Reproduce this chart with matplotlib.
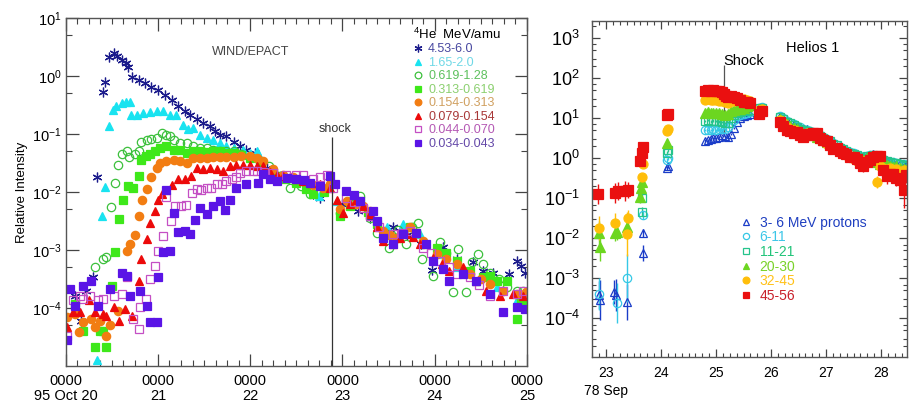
import matplotlib.pyplot as plt
import numpy as np
from matplotlib.lines import Line2D
from matplotlib.ticker import LogLocator, MultipleLocator, NullFormatter, FixedLocator

plt.rcParams['font.family'] = ['Liberation Sans', 'DejaVu Sans']
plt.rcParams['mathtext.fontset'] = 'custom'
plt.rcParams['mathtext.rm'] = 'Liberation Sans'
plt.rcParams['mathtext.it'] = 'Liberation Sans:italic'
plt.rcParams['mathtext.bf'] = 'Liberation Sans:bold'

# ---------------- WIND/EPACT 4He, Oct 1995: (day of month, log10 relative intensity)
he_453 = [(20.17, -4.22), (20.10, -3.79), (20.22, -3.70), (20.30, -3.47), (20.34, -1.75), (20.41, -0.27),
          (20.43, -0.10), (20.47, 0.32), (20.52, 0.40), (20.56, 0.34), (20.61, 0.28), (20.65, 0.22),
          (20.68, 0.16), (20.72, -0.01), (20.79, -0.07), (20.86, -0.12), (20.93, -0.19), (21.00, -0.25),
          (21.08, -0.32), (21.15, -0.41), (21.22, -0.51), (21.29, -0.61), (21.35, -0.67), (21.42, -0.74),
          (21.49, -0.81), (21.56, -0.86), (21.62, -0.95), (21.67, -1.01), (21.74, -1.04), (21.82, -1.13),
          (21.89, -1.21), (21.96, -1.27), (22.05, -1.32), (22.12, -1.50), (22.18, -1.58), (22.25, -1.64),
          (22.35, -1.72), (22.50, -1.81), (22.68, -2.04), (22.76, -2.10), (23.00, -2.20), (23.17, -2.33),
          (23.30, -2.45), (23.44, -2.67), (23.55, -2.61), (23.70, -2.75), (23.85, -2.90), (23.97, -3.35),
          (24.09, -2.95), (24.24, -3.16), (24.42, -3.21), (24.52, -3.36), (24.63, -3.39), (24.81, -3.42),
          (24.89, -3.19), (24.94, -3.28), (24.98, -3.39)]
he_165 = [(20.34, -4.90), (20.39, -2.41), (20.43, -1.92), (20.47, -0.87), (20.51, -0.58), (20.55, -0.52),
          (20.61, -0.47), (20.65, -0.44), (20.70, -0.45), (20.71, -0.67), (20.77, -0.67), (20.84, -0.64),
          (20.91, -0.62), (20.99, -0.61), (21.06, -0.61), (21.13, -0.67), (21.20, -0.67), (21.27, -0.84),
          (21.33, -0.92), (21.38, -0.90), (21.46, -1.01), (21.53, -1.07), (21.60, -1.10), (21.67, -1.15),
          (21.74, -1.21), (21.83, -1.24), (21.92, -1.28), (22.00, -1.32), (22.07, -1.30), (22.10, -1.38),
          (22.32, -1.70), (22.57, -1.81), (22.75, -2.07), (22.94, -2.16), (23.08, -2.13), (23.30, -2.38),
          (23.48, -2.61), (23.66, -2.56), (23.84, -2.73), (24.02, -3.07), (24.24, -3.30), (24.45, -3.53),
          (24.67, -3.64), (24.89, -3.87), (24.98, -3.82)]
he_619 = [(20.32, -3.30), (20.40, -3.16), (20.44, -3.12), (20.49, -2.26), (20.53, -1.84), (20.57, -1.54),
          (20.61, -1.35), (20.66, -1.30), (20.69, -1.40), (20.75, -1.35), (20.79, -1.30), (20.82, -1.13),
          (20.88, -1.10), (20.93, -1.08), (20.99, -1.07), (21.04, -0.98), (21.09, -1.01), (21.13, -1.04),
          (21.17, -1.10), (21.24, -1.15), (21.31, -1.15), (21.38, -1.21), (21.46, -1.24), (21.53, -1.24),
          (21.60, -1.27), (21.67, -1.30), (21.74, -1.30), (21.82, -1.30), (21.90, -1.35), (22.00, -1.40),
          (22.10, -1.45), (22.20, -1.55), (22.30, -1.72), (22.43, -1.93), (22.55, -1.90), (22.65, -2.04),
          (22.80, -1.95), (22.97, -2.36), (23.10, -2.20), (23.19, -2.07), (23.30, -2.45), (23.37, -2.70),
          (23.48, -2.73), (23.51, -2.96), (23.60, -2.65), (23.69, -2.90), (23.75, -2.60), (23.82, -2.53),
          (23.86, -3.16), (23.98, -3.45), (24.06, -2.87), (24.12, -3.05), (24.20, -3.73), (24.25, -2.99),
          (24.34, -3.73), (24.40, -3.20), (24.47, -3.07), (24.52, -3.24), (24.60, -3.40), (24.70, -3.50),
          (24.78, -3.64), (24.89, -3.70), (24.96, -3.70)]
he_313 = [(20.10, -3.93), (20.19, -4.39), (20.32, -4.68), (20.37, -4.39), (20.41, -4.39), (20.44, -4.68),
          (20.50, -3.62), (20.53, -3.04), (20.58, -2.47), (20.62, -2.13), (20.68, -1.90), (20.73, -1.93),
          (20.79, -1.72), (20.82, -1.44), (20.87, -1.38), (20.91, -1.34), (20.97, -1.30), (21.02, -1.24),
          (21.09, -1.21), (21.17, -1.27), (21.24, -1.27), (21.31, -1.32), (21.38, -1.30), (21.46, -1.29),
          (21.53, -1.31), (21.60, -1.30), (21.67, -1.30), (21.74, -1.32), (21.82, -1.32), (21.90, -1.36),
          (22.00, -1.42), (22.12, -1.50), (22.25, -1.67), (22.38, -1.78), (22.50, -1.84), (22.60, -1.95),
          (22.68, -2.04), (22.80, -2.00), (22.97, -2.41), (23.08, -2.25), (23.19, -2.16), (23.28, -2.35),
          (23.37, -2.56), (23.48, -2.75), (23.59, -2.79), (23.73, -2.61), (23.80, -2.70), (23.87, -2.90),
          (24.02, -2.96), (24.12, -3.05), (24.24, -3.19), (24.38, -3.36), (24.52, -3.47), (24.60, -3.45),
          (24.67, -3.53), (24.78, -3.53), (24.89, -4.19), (24.94, -3.90), (24.98, -3.93)]
he_154 = [(20.01, -4.16), (20.10, -4.10), (20.14, -4.42), (20.19, -4.25), (20.28, -4.19), (20.32, -4.33),
          (20.37, -4.22), (20.44, -4.49), (20.48, -4.29), (20.57, -4.05), (20.66, -3.02), (20.70, -2.89),
          (20.75, -2.74), (20.79, -2.41), (20.83, -2.14), (20.88, -1.94), (20.93, -1.75), (20.99, -1.58),
          (21.02, -1.50), (21.09, -1.46), (21.17, -1.44), (21.24, -1.46), (21.31, -1.50), (21.38, -1.41),
          (21.46, -1.41), (21.53, -1.42), (21.60, -1.40), (21.67, -1.40), (21.74, -1.40), (21.82, -1.40),
          (21.90, -1.38), (22.00, -1.38), (22.07, -1.42), (22.14, -1.47), (22.25, -1.60), (22.36, -1.70),
          (22.46, -1.75), (22.57, -1.81), (22.68, -1.88), (22.79, -1.93), (22.86, -1.87), (22.97, -2.30),
          (23.05, -2.15), (23.15, -2.21), (23.22, -2.25), (23.30, -2.33), (23.44, -2.67), (23.52, -2.75),
          (23.59, -2.79), (23.73, -2.61), (23.80, -2.70), (23.87, -2.84), (24.02, -3.07), (24.12, -3.15),
          (24.24, -3.24), (24.38, -3.42), (24.50, -3.50), (24.60, -3.59), (24.74, -3.70), (24.89, -3.76),
          (24.99, -3.73)]
he_079 = [(20.01, -4.33), (20.08, -4.07), (20.15, -4.07), (20.25, -3.87), (20.32, -4.07), (20.41, -4.10),
          (20.44, -4.13), (20.52, -3.99), (20.58, -4.22), (20.64, -4.02), (20.72, -4.13), (20.79, -3.53),
          (20.82, -3.16), (20.88, -2.81), (20.91, -2.53), (20.97, -2.33), (21.00, -2.14), (21.04, -2.04),
          (21.09, -1.96), (21.15, -1.88), (21.22, -1.78), (21.29, -1.77), (21.36, -1.73), (21.42, -1.59),
          (21.49, -1.61), (21.56, -1.59), (21.64, -1.61), (21.71, -1.64), (21.78, -1.56), (21.85, -1.53),
          (21.92, -1.53), (22.00, -1.53), (22.07, -1.55), (22.14, -1.56), (22.22, -1.65), (22.29, -1.70),
          (22.36, -1.72), (22.43, -1.75), (22.50, -1.78), (22.57, -1.81), (22.66, -1.85), (22.76, -1.87),
          (22.86, -1.93), (22.94, -2.13), (23.01, -2.36), (23.08, -2.20), (23.15, -2.13), (23.22, -2.25),
          (23.30, -2.38), (23.37, -2.60), (23.44, -2.84), (23.55, -2.90), (23.62, -2.80), (23.69, -2.73),
          (23.77, -2.78), (23.84, -2.90), (23.98, -3.13), (24.08, -3.25), (24.16, -3.36), (24.31, -3.30),
          (24.45, -3.53), (24.56, -3.70), (24.71, -3.79), (24.85, -3.76), (24.96, -3.79)]
he_044 = [(20.01, -4.48), (20.08, -3.87), (20.15, -3.79), (20.19, -3.85), (20.26, -3.79), (20.35, -3.87),
          (20.41, -3.85), (20.52, -3.79), (20.61, -3.76), (20.66, -3.47), (20.73, -4.19), (20.79, -4.36),
          (20.81, -3.99), (20.87, -3.85), (20.91, -3.50), (20.97, -3.27), (21.00, -3.02), (21.05, -2.76),
          (21.09, -2.09), (21.14, -2.50), (21.18, -2.24), (21.25, -2.24), (21.30, -2.22), (21.37, -2.01),
          (21.42, -1.94), (21.47, -1.96), (21.53, -1.93), (21.58, -1.93), (21.64, -1.87), (21.69, -1.87),
          (21.74, -1.81), (21.80, -1.78), (21.85, -1.75), (21.89, -1.67), (21.96, -1.64), (22.03, -1.64),
          (22.07, -1.64), (22.15, -1.66), (22.25, -1.68), (22.39, -1.70), (22.50, -1.70), (22.57, -1.70),
          (22.68, -1.78), (22.76, -1.75), (22.83, -1.70), (22.90, -1.93), (23.04, -2.10), (23.12, -2.18),
          (23.22, -2.27), (23.30, -2.42), (23.40, -2.61), (23.55, -2.73), (23.65, -2.70), (23.73, -2.67),
          (23.87, -2.96), (23.96, -3.05), (24.06, -3.19), (24.15, -3.30), (24.24, -3.42), (24.38, -3.47),
          (24.48, -3.60), (24.60, -3.79), (24.74, -3.70), (24.89, -3.76), (24.96, -3.70)]
he_034 = [(20.01, -4.56), (20.05, -3.67), (20.10, -3.96), (20.19, -3.62), (20.28, -3.53), (20.35, -3.96),
          (20.48, -3.67), (20.61, -3.39), (20.66, -3.44), (20.70, -3.79), (20.81, -3.70), (20.88, -3.96),
          (20.91, -4.25), (20.99, -4.25), (21.00, -3.47), (21.06, -3.04), (21.09, -1.96), (21.13, -3.01),
          (21.17, -2.36), (21.22, -2.69), (21.29, -2.67), (21.35, -2.73), (21.40, -2.48), (21.46, -2.27),
          (21.53, -2.38), (21.60, -2.24), (21.67, -2.16), (21.73, -2.31), (21.78, -2.13), (21.85, -1.93),
          (21.96, -1.87), (22.09, -1.84), (22.14, -1.69), (22.22, -1.78), (22.29, -1.81), (22.40, -1.76),
          (22.50, -1.78), (22.58, -1.80), (22.65, -1.84), (22.76, -1.90), (22.86, -1.73), (22.92, -1.87),
          (23.04, -1.98), (23.12, -2.05), (23.19, -2.16), (23.33, -2.33), (23.37, -2.50), (23.44, -2.79),
          (23.55, -2.90), (23.66, -2.73), (23.80, -2.70), (23.91, -2.90), (23.98, -3.19), (24.09, -3.33),
          (24.16, -3.53), (24.31, -3.42), (24.45, -3.53), (24.60, -3.76), (24.74, -4.07), (24.89, -3.99),
          (24.98, -4.02)]
he_labels = ['4.53-6.0', '1.65-2.0', '0.619-1.28', '0.313-0.619',
             '0.154-0.313', '0.079-0.154', '0.044-0.070', '0.034-0.043']
shock_wind = 22.89

# ---------------- Helios 1 protons, Sep 1978: (day of month, log10 intensity, log10 error)
p_3_6 = [(22.88, -3.42, 0.35), (22.89, -3.54, 0.5), (23.15, -3.33, 0.3), (23.18, -3.42, 0.4), (23.38, -3.58, 0.45),
         (23.67, -1.87, 0.1), (23.67, -2.37, 0.2), (24.10, -0.25, 0.05), (24.12, -0.20, 0.05),
         (24.80, 0.44, 0.03), (24.85, 0.46, 0.03), (24.90, 0.47, 0.03), (24.95, 0.50, 0.03), (25.00, 0.50, 0.03),
         (25.05, 0.53, 0.03), (25.10, 0.58, 0.03), (25.16, 0.55, 0.03), (25.22, 0.52, 0.03), (25.28, 0.60, 0.03),
         (25.33, 0.75, 0.03), (25.38, 0.90, 0.03), (25.44, 1.00, 0.03), (25.50, 1.05, 0.03), (25.56, 1.08, 0.03),
         (25.62, 1.10, 0.03), (25.78, 1.22, 0.04), (25.83, 1.24, 0.04), (26.16, 1.06, 0.05), (26.29, 0.95, 0.05),
         (26.41, 0.86, 0.05), (26.53, 0.78, 0.05), (26.65, 0.72, 0.05), (26.77, 0.66, 0.05), (26.89, 0.58, 0.05),
         (27.01, 0.49, 0.06), (27.13, 0.39, 0.06), (27.26, 0.29, 0.06), (27.37, 0.20, 0.06), (27.50, 0.13, 0.08),
         (27.62, 0.06, 0.08), (27.74, 0.06, 0.08), (27.86, 0.10, 0.08), (27.98, -0.03, 0.08), (28.10, -0.06, 0.08),
         (28.22, -0.10, 0.08), (28.35, -0.13, 0.08), (28.46, -0.18, 0.1)]
p_6_11 = [(22.88, -3.40, 0.4), (23.19, -3.61, 0.5), (23.38, -3.00, 0.6), (23.67, -1.42, 0.1),
          (24.10, -0.04, 0.05), (24.12, 0.00, 0.05),
          (24.80, 0.70, 0.03), (24.85, 0.71, 0.03), (24.90, 0.70, 0.03), (24.95, 0.72, 0.03), (25.00, 0.71, 0.03),
          (25.05, 0.72, 0.03), (25.10, 0.72, 0.03), (25.16, 0.73, 0.03), (25.22, 0.78, 0.03), (25.28, 0.88, 0.03),
          (25.33, 0.95, 0.03), (25.38, 1.05, 0.03), (25.44, 1.08, 0.03), (25.50, 1.10, 0.03), (25.56, 1.12, 0.03),
          (25.62, 1.15, 0.03), (25.78, 1.25, 0.04), (25.83, 1.27, 0.04), (26.16, 1.05, 0.05), (26.22, 1.00, 0.05),
          (26.29, 0.94, 0.05), (26.35, 0.89, 0.05), (26.41, 0.85, 0.05), (26.47, 0.81, 0.05), (26.53, 0.77, 0.05),
          (26.59, 0.73, 0.05), (26.65, 0.70, 0.05), (26.71, 0.68, 0.05), (26.77, 0.64, 0.05), (26.83, 0.61, 0.05),
          (26.89, 0.57, 0.06), (26.95, 0.53, 0.06), (27.01, 0.48, 0.06), (27.07, 0.43, 0.06), (27.13, 0.38, 0.06),
          (27.20, 0.33, 0.06), (27.26, 0.28, 0.06), (27.31, 0.24, 0.06), (27.37, 0.19, 0.06), (27.44, 0.15, 0.07),
          (27.50, 0.12, 0.07), (27.56, 0.09, 0.07), (27.62, 0.05, 0.07), (27.68, 0.03, 0.07), (27.74, 0.06, 0.07),
          (27.80, 0.08, 0.07), (27.86, 0.09, 0.07), (27.92, 0.02, 0.08), (27.98, -0.04, 0.08), (28.04, -0.02, 0.08),
          (28.10, -0.06, 0.08), (28.16, -0.09, 0.08), (28.22, -0.10, 0.08), (28.28, -0.11, 0.08), (28.35, -0.14, 0.08),
          (28.41, -0.15, 0.08), (28.46, -0.18, 0.08)]
p_11_21 = [(23.65, -0.98, 0.1), (23.66, -1.33, 0.12), (24.10, 0.13, 0.04), (24.12, 0.20, 0.04),
           (24.80, 0.93, 0.03), (24.85, 0.95, 0.03), (24.90, 0.92, 0.03), (24.95, 0.94, 0.03), (25.00, 0.93, 0.03),
           (25.05, 0.92, 0.03), (25.10, 0.90, 0.03), (25.16, 0.87, 0.03), (25.22, 0.88, 0.03), (25.28, 1.00, 0.03),
           (25.33, 1.08, 0.03), (25.38, 1.12, 0.03), (25.44, 1.15, 0.03), (25.50, 1.17, 0.03), (25.56, 1.18, 0.03),
           (25.62, 1.20, 0.03), (25.78, 1.25, 0.04), (25.83, 1.26, 0.04), (26.16, 1.03, 0.05), (26.22, 0.98, 0.05),
           (26.29, 0.91, 0.05), (26.35, 0.87, 0.05), (26.41, 0.82, 0.05), (26.47, 0.79, 0.05), (26.53, 0.74, 0.05),
           (26.59, 0.71, 0.05), (26.65, 0.68, 0.05), (26.71, 0.66, 0.05), (26.77, 0.62, 0.05), (26.83, 0.60, 0.05),
           (26.89, 0.55, 0.06), (26.95, 0.51, 0.06), (27.01, 0.46, 0.06), (27.07, 0.42, 0.06), (27.13, 0.36, 0.06),
           (27.20, 0.32, 0.06), (27.26, 0.26, 0.06), (27.31, 0.22, 0.06), (27.37, 0.18, 0.06), (27.44, 0.13, 0.07),
           (27.50, 0.11, 0.07), (27.56, 0.07, 0.07), (27.62, 0.04, 0.07), (27.68, 0.01, 0.07), (27.74, 0.05, 0.07),
           (27.80, 0.06, 0.07), (27.86, 0.08, 0.07), (27.92, 0.00, 0.08), (27.98, -0.05, 0.08), (28.04, -0.04, 0.08),
           (28.10, -0.08, 0.08), (28.16, -0.10, 0.08), (28.22, -0.12, 0.08), (28.28, -0.12, 0.08), (28.35, -0.15, 0.08),
           (28.41, -0.17, 0.08), (28.46, -0.20, 0.08)]
p_20_30 = [(22.88, -1.87, 0.3), (22.89, -2.21, 0.35), (23.16, -1.87, 0.2), (23.19, -1.85, 0.2), (23.38, -1.71, 0.25),
           (23.61, -0.96, 0.15), (23.63, -0.75, 0.1), (23.65, -0.59, 0.1), (24.10, 0.38, 0.04),
           (24.80, 1.13, 0.03), (24.85, 1.15, 0.03), (24.90, 1.12, 0.03), (24.95, 1.14, 0.03), (25.00, 1.13, 0.03),
           (25.05, 1.12, 0.03), (25.10, 1.10, 0.03), (25.16, 1.08, 0.03), (25.22, 1.10, 0.03), (25.28, 1.18, 0.03),
           (25.33, 1.20, 0.03), (25.38, 1.22, 0.03), (25.44, 1.24, 0.03), (25.50, 1.26, 0.03), (25.56, 1.30, 0.03),
           (25.62, 1.33, 0.03), (25.78, 1.22, 0.04), (25.83, 1.24, 0.04), (26.16, 0.98, 0.05), (26.22, 0.92, 0.05),
           (26.29, 0.85, 0.05), (26.35, 0.80, 0.05), (26.41, 0.76, 0.05), (26.47, 0.72, 0.05), (26.53, 0.68, 0.05),
           (26.59, 0.64, 0.05), (26.65, 0.62, 0.05), (26.71, 0.60, 0.05), (26.77, 0.57, 0.05), (26.83, 0.54, 0.05),
           (26.89, 0.50, 0.06), (26.95, 0.45, 0.06), (27.01, 0.40, 0.06), (27.07, 0.36, 0.06), (27.13, 0.30, 0.06),
           (27.20, 0.26, 0.06), (27.26, 0.20, 0.08), (27.31, 0.15, 0.08), (27.37, 0.12, 0.08), (27.44, 0.08, 0.08),
           (27.50, 0.05, 0.08), (27.56, 0.02, 0.08), (27.62, -0.03, 0.08), (27.68, -0.05, 0.08), (27.74, 0.00, 0.08),
           (27.80, 0.02, 0.08), (27.86, 0.04, 0.08), (27.92, -0.10, 0.1), (27.98, -0.15, 0.1), (28.04, -0.12, 0.1),
           (28.10, -0.18, 0.1), (28.16, -0.20, 0.1), (28.22, -0.22, 0.1), (28.28, -0.20, 0.1), (28.35, -0.25, 0.1),
           (28.41, -0.28, 0.1), (28.46, -0.30, 0.1)]
p_32_45 = [(22.88, -1.73, 0.3), (23.16, -1.61, 0.25), (23.38, -1.89, 0.55), (23.39, -1.50, 0.2),
           (23.65, -0.46, 0.1), (23.68, -0.14, 0.08), (24.10, 0.69, 0.05), (24.12, 0.74, 0.05),
           (24.80, 1.46, 0.03), (24.85, 1.47, 0.03), (24.90, 1.45, 0.03), (24.95, 1.46, 0.03), (25.00, 1.45, 0.03),
           (25.05, 1.44, 0.03), (25.10, 1.43, 0.03), (25.16, 1.40, 0.03), (25.22, 1.38, 0.03), (25.28, 1.42, 0.03),
           (25.33, 1.44, 0.03), (25.38, 1.46, 0.03), (25.44, 1.48, 0.03), (25.50, 1.47, 0.03), (25.56, 1.45, 0.03),
           (25.62, 1.44, 0.03), (25.78, 1.20, 0.05), (25.83, 1.22, 0.05), (26.16, 0.95, 0.06), (26.22, 0.88, 0.06),
           (26.29, 0.78, 0.06), (26.35, 0.74, 0.06), (26.41, 0.70, 0.06), (26.47, 0.68, 0.06), (26.53, 0.62, 0.06),
           (26.59, 0.58, 0.06), (26.65, 0.62, 0.06), (26.71, 0.60, 0.06), (26.77, 0.58, 0.06), (26.83, 0.55, 0.08),
           (26.89, 0.48, 0.08), (26.95, 0.42, 0.08), (27.01, 0.35, 0.08), (27.07, 0.30, 0.1), (27.13, 0.26, 0.1),
           (27.20, 0.20, 0.1), (27.26, 0.16, 0.1), (27.31, 0.12, 0.1), (27.37, 0.08, 0.1), (27.44, 0.05, 0.12),
           (27.50, -0.02, 0.12), (27.56, -0.06, 0.12), (27.62, -0.04, 0.12), (27.68, -0.10, 0.12), (27.74, -0.05, 0.12),
           (27.80, -0.02, 0.12), (27.86, 0.00, 0.12), (27.92, -0.60, 0.15), (27.98, -0.20, 0.15), (28.04, -0.25, 0.15),
           (28.10, -0.30, 0.15), (28.16, -0.25, 0.15), (28.22, -0.35, 0.15), (28.28, -0.28, 0.15), (28.35, -0.40, 0.15),
           (28.41, -0.30, 0.15), (28.46, -0.38, 0.15)]
p_45_56 = [(22.86, -0.90, 0.25), (23.16, -0.87, 0.25), (23.22, -0.81, 0.22), (23.35, -0.81, 0.25), (23.39, -0.78, 0.2),
           (23.61, -0.08, 0.1), (23.65, 0.12, 0.08), (23.68, 0.27, 0.06), (24.10, 1.08, 0.04), (24.13, 1.10, 0.04),
           (24.80, 1.69, 0.03), (24.85, 1.70, 0.03), (24.90, 1.69, 0.03), (24.95, 1.70, 0.03), (25.00, 1.68, 0.03),
           (25.05, 1.69, 0.03), (25.10, 1.66, 0.03), (25.14, 1.60, 0.03), (25.18, 1.56, 0.03), (25.22, 1.54, 0.03),
           (25.28, 1.55, 0.03), (25.33, 1.52, 0.03), (25.38, 1.50, 0.03), (25.44, 1.46, 0.03), (25.50, 1.41, 0.03),
           (25.56, 1.40, 0.03), (25.62, 1.37, 0.03), (25.78, 1.10, 0.05), (25.83, 1.18, 0.05), (26.16, 0.90, 0.06),
           (26.22, 0.80, 0.06), (26.29, 0.71, 0.08), (26.35, 0.68, 0.06), (26.41, 0.63, 0.08), (26.47, 0.66, 0.06),
           (26.53, 0.58, 0.06), (26.59, 0.54, 0.08), (26.65, 0.60, 0.06), (26.71, 0.58, 0.06), (26.77, 0.63, 0.06),
           (26.83, 0.62, 0.06), (26.89, 0.50, 0.08), (26.95, 0.46, 0.08), (27.01, 0.42, 0.08), (27.07, 0.33, 0.1),
           (27.13, 0.22, 0.1), (27.20, 0.25, 0.1), (27.26, 0.18, 0.1), (27.31, 0.13, 0.12), (27.37, 0.10, 0.1),
           (27.44, 0.04, 0.12), (27.50, 0.02, 0.12), (27.56, -0.02, 0.12), (27.62, -0.12, 0.15), (27.68, -0.20, 0.15),
           (27.74, -0.10, 0.12), (27.80, -0.05, 0.12), (27.86, 0.02, 0.1), (27.92, 0.05, 0.1), (27.98, 0.06, 0.1),
           (28.04, -0.30, 0.15), (28.10, -0.45, 0.2), (28.16, -0.40, 0.15), (28.22, -0.38, 0.15), (28.28, -0.50, 0.2),
           (28.35, -0.55, 0.2), (28.41, -0.80, 0.45), (28.46, -0.42, 0.2)]
p_labels = ['3- 6 MeV protons', '6-11', '11-21', '20-30', '32-45', '45-56']
shock_helios = 25.14

fig = plt.figure(figsize=(9.12, 4.05), dpi=100)
ax1 = fig.add_axes([0.0720, 0.0963, 0.5058, 0.8593])
ax2 = fig.add_axes([0.6495, 0.1193, 0.3447, 0.8296])

# ---- left panel: WIND/EPACT
left_sets = [he_453, he_165, he_619, he_313, he_154, he_079, he_044, he_034]
# (marker, size, face, edge, legend text colour)
left_styles = [
    ((6, 2, 0), 7, '#1c1c8c', '#1c1c8c', '#4848a0'),
    ('^', 6, '#19e3f0', '#19e3f0', '#6fd8e6'),
    ('o', 6, 'none', '#3cc03c', '#5cc05c'),
    ('s', 5.3, '#3ee81a', '#3ee81a', '#8cd070'),
    ('o', 6, '#f27d12', '#f27d12', '#d0a060'),
    ('^', 6, '#ec0a0a', '#ec0a0a', '#a83838'),
    ('s', 5.3, 'none', '#c44fc4', '#b458b4'),
    ('s', 5.3, '#5a14e6', '#5a14e6', '#6448a8'),
]
handles = []
for pts, (mk, ms, fc, ec, _) in zip(left_sets, left_styles):
    t, lg = np.array(pts).T
    ax1.plot(t, 10.0 ** lg, ls='none', marker=mk, ms=ms, mfc=fc, mec=ec, mew=0.9)
    handles.append(Line2D([], [], ls='none', marker=mk, ms=ms * 0.8, mfc=fc, mec=ec, mew=0.9))

ax1.set_xlim(20, 25)
ax1.set_ylim(1e-5, 10)
ax1.set_yscale('log')
ax1.yaxis.set_major_locator(FixedLocator([1e-4, 1e-3, 1e-2, 1e-1, 1, 10]))
ax1.yaxis.set_minor_locator(LogLocator(base=10, subs=(5.0,)))
ax1.yaxis.set_minor_formatter(NullFormatter())
ax1.set_xticks(range(20, 26))
ax1.set_xticklabels(['0000\n95 Oct 20', '0000\n21', '0000\n22', '0000\n23', '0000\n24', '0000\n25'],
                    linespacing=1.05)
ax1.xaxis.set_minor_locator(MultipleLocator(0.125))
ax1.tick_params(which='both', direction='in', top=True, right=True, color='#444444', labelsize=10.5)
ax1.tick_params(which='major', length=9, width=0.9)
ax1.tick_params(which='minor', length=4.5, width=0.8)
ax1.tick_params(axis='x', pad=6)
ax1.tick_params(axis='y', pad=3)
ax1.set_ylabel('Relative Intensity', fontsize=9.5, labelpad=3)

ax1.vlines(shock_wind, 1e-5, 9e-2, color='#333333', lw=0.9)
ax1.text(shock_wind + 0.03, 10 ** -0.92, 'shock', ha='center', va='center', fontsize=9, color='#333333')
ax1.text(0.402, 0.902, 'WIND/EPACT', transform=ax1.transAxes, ha='center', va='center',
         fontsize=9, color='#444444')

leg1 = ax1.legend(handles, he_labels, loc='upper left', bbox_to_anchor=(0.752, 0.975),
                  frameon=False, fontsize=9, handlelength=0.8, handletextpad=0.45,
                  labelspacing=0.12, borderpad=0, borderaxespad=0,
                  labelcolor=[s[4] for s in left_styles],
                  title='$^4$He  MeV/amu', title_fontsize=9.5, alignment='left')

# ---- right panel: Helios 1
right_sets = [p_3_6, p_6_11, p_11_21, p_20_30, p_32_45, p_45_56]
right_styles = [
    ('^', 6, 'none', '#1a3cc8', '#1f3fc0'),
    ('o', 6, 'none', '#35c8e6', '#3cc6e8'),
    ('s', 5.5, 'none', '#25c48c', '#22c47a'),
    ('^', 6.5, '#6cd620', '#6cd620', '#7ad22a'),
    ('o', 6.5, '#ffbe0a', '#ffbe0a', '#ffc21a'),
    ('s', 6.5, '#ea1010', '#ea1010', '#c8202a'),
]
handles2 = []
for pts, (mk, ms, fc, ec, _) in zip(right_sets, right_styles):
    t, lg, err = np.array(pts).T
    v = 10.0 ** lg
    lo = v * (1 - 10.0 ** -err)
    hi = v * (10.0 ** err - 1)
    ax2.errorbar(t, v, yerr=[lo, hi], fmt=mk, ms=ms, mfc=fc, mec=ec, mew=0.9,
                 ecolor=ec, elinewidth=1.0, capsize=0)
    handles2.append(Line2D([], [], ls='none', marker=mk, ms=ms * 0.75, mfc=fc, mec=ec, mew=0.9))

ax2.set_xlim(22.75, 28.467)
ax2.set_ylim(1.1e-5, 2.75e3)
ax2.set_yscale('log')
ax2.yaxis.set_major_locator(FixedLocator([1e-4, 1e-3, 1e-2, 1e-1, 1, 10, 100, 1000]))
ax2.yaxis.set_minor_locator(LogLocator(base=10, subs=(2.0, 3.0, 5.0, 7.0)))
ax2.yaxis.set_minor_formatter(NullFormatter())
ax2.set_xticks(range(23, 29))
ax2.set_xticklabels(['23\n78 Sep', '24', '25', '26', '27', '28'], linespacing=1.3)
ax2.xaxis.set_minor_locator(MultipleLocator(0.125))
ax2.tick_params(which='both', direction='in', top=True, right=True, color='#444444')
ax2.tick_params(which='major', length=6, width=0.9)
ax2.tick_params(which='minor', length=3, width=0.8)
ax2.tick_params(axis='x', labelsize=10, pad=7)
ax2.tick_params(axis='y', labelsize=13, pad=9)

ax2.vlines(shock_helios, 10 ** 0.63, 10 ** 2.33, color='#555555', lw=0.9)
ax2.text(shock_helios, 10 ** 2.43, 'Shock', ha='left', va='center', fontsize=10.5)
ax2.text(0.702, 0.919, 'Helios 1', transform=ax2.transAxes, ha='center', va='center', fontsize=10.5)

ax2.legend(handles2, p_labels, loc='upper left', bbox_to_anchor=(0.47, 0.42),
           frameon=False, fontsize=10, handlelength=0.8, handletextpad=0.6,
           labelspacing=0.05, borderpad=0, borderaxespad=0,
           labelcolor=[s[4] for s in right_styles])

for ax in (ax1, ax2):
    for sp in ax.spines.values():
        sp.set_color('#555555')
        sp.set_linewidth(1.0)

fig.savefig('out.png', dpi=100)
